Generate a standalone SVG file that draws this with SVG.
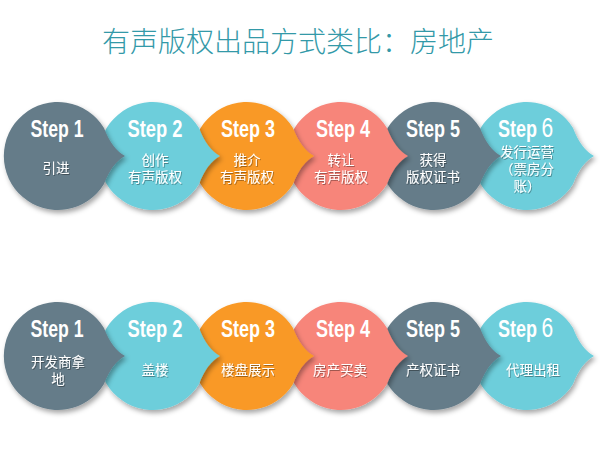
<svg xmlns="http://www.w3.org/2000/svg" xmlns:xlink="http://www.w3.org/1999/xlink" width="600" height="451" viewBox="0 0 600 451">
<style>
.title{font-family:"Noto Sans CJK SC","Liberation Sans",sans-serif;font-size:28px;font-weight:300;fill:#3399a8;text-anchor:middle}
.step{font-family:"Liberation Sans","DejaVu Sans",sans-serif;font-weight:bold;font-size:24px;fill:#ffffff;text-anchor:middle}
.stepl{font-family:"Liberation Sans","DejaVu Sans",sans-serif;font-weight:bold;font-size:24px;fill:#ffffff;text-anchor:start}
.num6{font-weight:normal;font-size:28px}
.lbl{font-family:"Noto Sans CJK SC","Liberation Sans",sans-serif;font-size:13.5px;fill:#ffffff;text-anchor:middle}
.slate{fill:#657c89}
.teal{fill:#6dcedb}
.orange{fill:#f99926}
.salmon{fill:#f7857a}
</style>
<defs>
<filter id="sh" x="-20%" y="-20%" width="150%" height="150%">
<feDropShadow dx="2" dy="3" stdDeviation="2.5" flood-color="#000" flood-opacity="0.35"/>
</filter>
<filter id="tsh" x="-10%" y="-20%" width="130%" height="150%">
<feDropShadow dx="0.8" dy="1" stdDeviation="0.6" flood-color="#000" flood-opacity="0.35"/>
</filter>
<path id="drop" d="M 67 0 Q 54 -7 46 -28 A 54 54 0 1 0 46 28 Q 54 7 67 0 Z"/>
</defs>
<rect width="600" height="451" fill="#ffffff"/>
<text class="title" x="298" y="52">有声版权出品方式类比：房地产</text>

<g id="connectors"></g>

<!-- Row 1 -->
<g id="r1s6">
<use xlink:href="#drop" class="teal" transform="translate(527,156)" filter="url(#sh)"/>
<text class="stepl" transform="translate(498,137) scale(0.75,1)">Step<tspan class="num6" dx="6">6</tspan></text>
<text class="lbl" filter="url(#tsh)" x="527" y="157">发行运营<tspan x="527" dy="17">（票房分</tspan><tspan x="527" dy="17">账）</tspan></text>
</g>
<g id="r1s5">
<use xlink:href="#drop" class="slate" transform="translate(434,156)" filter="url(#sh)"/>
<text class="step" x="433" y="137" textLength="54" lengthAdjust="spacingAndGlyphs">Step 5</text>
<text class="lbl" filter="url(#tsh)" x="433" y="165">获得<tspan x="433" dy="17">版权证书</tspan></text>
</g>
<g id="r1s4">
<use xlink:href="#drop" class="salmon" transform="translate(341,156)" filter="url(#sh)"/>
<text class="step" x="343" y="137" textLength="54" lengthAdjust="spacingAndGlyphs">Step 4</text>
<text class="lbl" filter="url(#tsh)" x="341" y="165">转让<tspan x="341" dy="17">有声版权</tspan></text>
</g>
<g id="r1s3">
<use xlink:href="#drop" class="orange" transform="translate(247,156)" filter="url(#sh)"/>
<text class="step" x="248" y="137" textLength="54" lengthAdjust="spacingAndGlyphs">Step 3</text>
<text class="lbl" filter="url(#tsh)" x="247" y="165">推介<tspan x="247" dy="17">有声版权</tspan></text>
</g>
<g id="r1s2">
<use xlink:href="#drop" class="teal" transform="translate(153,156)" filter="url(#sh)"/>
<text class="step" x="155" y="137" textLength="55" lengthAdjust="spacingAndGlyphs">Step 2</text>
<text class="lbl" filter="url(#tsh)" x="155" y="165">创作<tspan x="155" dy="17">有声版权</tspan></text>
</g>
<g id="r1s1">
<use xlink:href="#drop" class="slate" transform="translate(58,156)" filter="url(#sh)"/>
<text class="step" x="57" y="137" textLength="53" lengthAdjust="spacingAndGlyphs">Step 1</text>
<text class="lbl" filter="url(#tsh)" x="56" y="173">引进</text>
</g>

<!-- Row 2 -->
<g id="r2s6">
<use xlink:href="#drop" class="teal" transform="translate(527,356)" filter="url(#sh)"/>
<text class="stepl" transform="translate(498,337) scale(0.75,1)">Step<tspan class="num6" dx="6">6</tspan></text>
<text class="lbl" filter="url(#tsh)" x="533" y="375">代理出租</text>
</g>
<g id="r2s5">
<use xlink:href="#drop" class="slate" transform="translate(434,356)" filter="url(#sh)"/>
<text class="step" x="433" y="337" textLength="54" lengthAdjust="spacingAndGlyphs">Step 5</text>
<text class="lbl" filter="url(#tsh)" x="433" y="375">产权证书</text>
</g>
<g id="r2s4">
<use xlink:href="#drop" class="salmon" transform="translate(341,356)" filter="url(#sh)"/>
<text class="step" x="343" y="337" textLength="54" lengthAdjust="spacingAndGlyphs">Step 4</text>
<text class="lbl" filter="url(#tsh)" x="340" y="375">房产买卖</text>
</g>
<g id="r2s3">
<use xlink:href="#drop" class="orange" transform="translate(247,356)" filter="url(#sh)"/>
<text class="step" x="248" y="337" textLength="54" lengthAdjust="spacingAndGlyphs">Step 3</text>
<text class="lbl" filter="url(#tsh)" x="248" y="375">楼盘展示</text>
</g>
<g id="r2s2">
<use xlink:href="#drop" class="teal" transform="translate(153,356)" filter="url(#sh)"/>
<text class="step" x="155" y="337" textLength="55" lengthAdjust="spacingAndGlyphs">Step 2</text>
<text class="lbl" filter="url(#tsh)" x="155" y="375">盖楼</text>
</g>
<g id="r2s1">
<use xlink:href="#drop" class="slate" transform="translate(58,356)" filter="url(#sh)"/>
<text class="step" x="57" y="337" textLength="53" lengthAdjust="spacingAndGlyphs">Step 1</text>
<text class="lbl" filter="url(#tsh)" x="58" y="367">开发商拿<tspan x="58" dy="17">地</tspan></text>
</g>
</svg>
